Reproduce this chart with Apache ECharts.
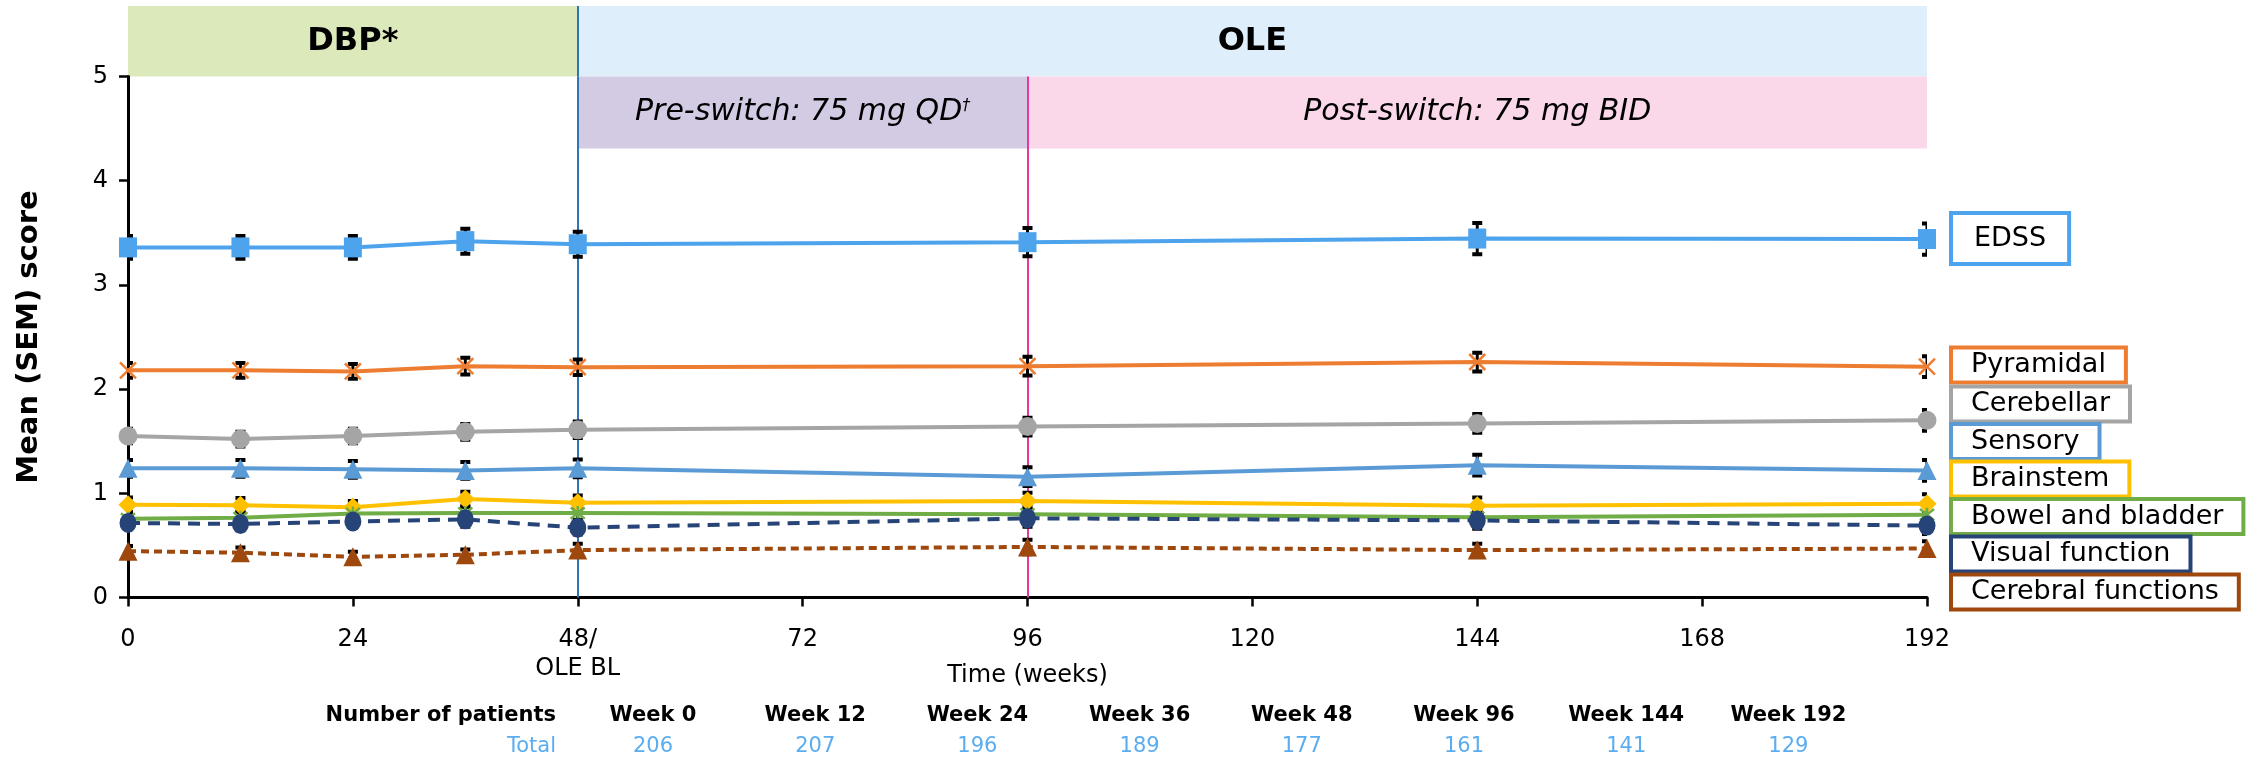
<!DOCTYPE html>
<html>
<head>
<meta charset="utf-8">
<script src="https://cdn.jsdelivr.net/npm/echarts@6/dist/echarts.min.js"></script>
<style>
html, body { margin: 0; padding: 0; background: #fff; }
#chart { width: 2261px; height: 758px; }
</style>
</head>
<body>
<div id="chart"></div>
<script>
// time points (weeks)
const weeks = [0, 12, 24, 36, 48, 96, 144, 192];

// mean scores and SEM per measure
const edss = [3.36, 3.36, 3.36, 3.42, 3.39, 3.41, 3.445, 3.44];
const edssSem = [0.11, 0.11, 0.11, 0.12, 0.12, 0.135, 0.15, 0.15];
const pyramidal = [2.18, 2.18, 2.17, 2.22, 2.21, 2.22, 2.26, 2.215];
const pyramidalSem = [0.07, 0.07, 0.07, 0.08, 0.075, 0.09, 0.09, 0.1];
const cerebellar = [1.55, 1.52, 1.55, 1.59, 1.61, 1.64, 1.67, 1.70];
const cerebellarSem = [0.07, 0.07, 0.07, 0.075, 0.08, 0.085, 0.09, 0.1];
const sensory = [1.24, 1.24, 1.23, 1.22, 1.24, 1.16, 1.27, 1.22];
const sensorySem = [0.08, 0.08, 0.08, 0.08, 0.085, 0.09, 0.1, 0.1];
const brainstem = [0.89, 0.885, 0.865, 0.945, 0.91, 0.925, 0.88, 0.90];
const brainstemSem = [0.07, 0.07, 0.06, 0.07, 0.07, 0.08, 0.08, 0.09];
const bowel = [0.755, 0.765, 0.805, 0.81, 0.81, 0.80, 0.77, 0.795];
const bowelSem = [0.06, 0.06, 0.06, 0.06, 0.065, 0.07, 0.07, 0.08];
const visual = [0.715, 0.705, 0.73, 0.75, 0.67, 0.76, 0.74, 0.69];
const visualSem = [0.06, 0.06, 0.06, 0.07, 0.065, 0.08, 0.08, 0.08];
const cerebral = [0.445, 0.43, 0.39, 0.41, 0.455, 0.485, 0.455, 0.47];
const cerebralSem = [0.05, 0.05, 0.05, 0.05, 0.06, 0.07, 0.06, 0.07];

// patient counts table
const tableHeads = ['Week 0', 'Week 12', 'Week 24', 'Week 36', 'Week 48', 'Week 96', 'Week 144', 'Week 192'];
const totals = [206, 207, 196, 189, 177, 161, 141, 129];

// phase bands
const phaseSwitch = 96;
const dbpEnd = 48;

const FONT = '"DejaVu Sans", Verdana, sans-serif';
const xMark = 'path://M0,0L10,10M10,0L0,10';
const starMark = 'path://M1,1L9,9M9,1L1,9M5,0L5,10';

const measures = [
    { name: 'EDSS', v: edss, e: edssSem, color: '#4DA3EC', symbol: 'rect', size: [18, 20], labelY: 238.5, pad: [10, 21, 10, 21] },
    { name: 'Pyramidal', v: pyramidal, e: pyramidalSem, color: '#ED7D31', symbol: xMark, size: 16, stroke: true, labelY: 365 },
    { name: 'Cerebellar', v: cerebellar, e: cerebellarSem, color: '#A5A5A5', symbol: 'circle', size: 19, labelY: 404 },
    { name: 'Sensory', v: sensory, e: sensorySem, color: '#5B9BD5', symbol: 'triangle', size: 19, labelY: 441.5 },
    { name: 'Brainstem', v: brainstem, e: brainstemSem, color: '#FFC000', symbol: 'diamond', size: 19, labelY: 479 },
    { name: 'Bowel and bladder', v: bowel, e: bowelSem, color: '#70AD47', symbol: starMark, size: 14, stroke: true, labelY: 516.5 },
    { name: 'Visual function', v: visual, e: visualSem, color: '#264478', symbol: 'circle', size: [17, 20], dash: [12, 8], labelY: 554 },
    { name: 'Cerebral functions', v: cerebral, e: cerebralSem, color: '#9E480E', symbol: 'triangle', size: 19, dash: [8, 5], labelY: 592 }
];

function errorSeries(m) {
    return {
        type: 'custom',
        xAxisIndex: 0, yAxisIndex: 0,
        z: 2, clip: true, silent: true,
        encode: { x: 0, y: [1, 2] },
        data: weeks.map((w, i) => [w, m.v[i] - m.e[i], m.v[i] + m.e[i]]),
        renderItem: function (params, api) {
            const lo = api.coord([api.value(0), api.value(1)]);
            const hi = api.coord([api.value(0), api.value(2)]);
            const cap = 5;
            return {
                type: 'group',
                children: [
                    { type: 'line', shape: { x1: lo[0], y1: lo[1], x2: hi[0], y2: hi[1] }, style: { stroke: '#000', lineWidth: 3 } },
                    { type: 'line', shape: { x1: lo[0] - cap, y1: lo[1], x2: lo[0] + cap, y2: lo[1] }, style: { stroke: '#000', lineWidth: 4 } },
                    { type: 'line', shape: { x1: hi[0] - cap, y1: hi[1], x2: hi[0] + cap, y2: hi[1] }, style: { stroke: '#000', lineWidth: 4 } }
                ]
            };
        }
    };
}

function lineSeries(m) {
    return {
        name: m.name,
        type: 'line',
        xAxisIndex: 0, yAxisIndex: 0,
        z: 3,
        color: m.color,
        data: weeks.map((w, i) => [w, m.v[i]]),
        symbol: m.symbol,
        symbolSize: m.size,
        showSymbol: true,
        lineStyle: { width: 4, type: m.dash ? m.dash : 'solid', color: m.color },
        itemStyle: m.stroke
            ? { color: 'transparent', borderColor: m.color, borderWidth: 2.5 }
            : { color: m.color, borderWidth: 0 }
    };
}

const series = [];
// phase bands + vertical lines (top grid)
series.push({
    type: 'line', xAxisIndex: 1, yAxisIndex: 1, data: [], silent: true,
    markArea: {
        silent: true, z: 0,
        label: { show: true, position: 'inside', color: '#000', fontFamily: FONT, fontSize: 32, fontWeight: 'bold' },
        data: [
            [{ name: 'DBP*', xAxis: 0, yAxis: 0, itemStyle: { color: '#DCEABB' } }, { xAxis: dbpEnd, yAxis: 1 }],
            [{ name: 'OLE', xAxis: dbpEnd, yAxis: 0, itemStyle: { color: '#DFEEFB' } }, { xAxis: 192, yAxis: 1 }]
        ]
    },
    markLine: {
        silent: true, symbol: 'none', z: 1, label: { show: false },
        data: [{ xAxis: dbpEnd, lineStyle: { color: '#2E75B6', width: 2, type: 'solid' } }]
    }
});
// dosing bands + vertical lines (main grid)
series.push({
    type: 'line', xAxisIndex: 0, yAxisIndex: 0, data: [], silent: true,
    markArea: {
        silent: true, z: 0,
        label: {
            show: true, position: 'inside', color: '#000', fontFamily: FONT, fontSize: 30, fontStyle: 'italic',
            formatter: function (p) { return p.name === 'pre' ? '{a|Pre-switch: 75 mg QD}{b|†}' : '{a|Post-switch: 75 mg BID}'; },
            rich: {
                a: { fontFamily: FONT, fontSize: 30, fontStyle: 'italic', color: '#000' },
                b: { fontFamily: FONT, fontSize: 16, fontStyle: 'italic', color: '#000', verticalAlign: 'top', padding: [0, 0, 14, 0] }
            }
        },
        data: [
            [{ name: 'pre', xAxis: dbpEnd, yAxis: 4.31, itemStyle: { color: '#D3CBE3' } }, { xAxis: phaseSwitch, yAxis: 5 }],
            [{ name: 'post', xAxis: phaseSwitch, yAxis: 4.31, itemStyle: { color: '#FAD8EA' } }, { xAxis: 192, yAxis: 5 }]
        ]
    },
    markLine: {
        silent: true, symbol: 'none', z: 1, label: { show: false },
        data: [
            { xAxis: dbpEnd, lineStyle: { color: '#2E75B6', width: 2, type: 'solid' } },
            { xAxis: phaseSwitch, lineStyle: { color: '#E6399B', width: 2, type: 'solid' } }
        ]
    }
});
measures.forEach(m => series.push(errorSeries(m)));
measures.forEach(m => series.push(lineSeries(m)));

const graphic = [];
measures.forEach(m => {
    graphic.push({
        type: 'text', x: 1953, y: m.labelY, silent: true,
        style: {
            text: m.name, font: '27px ' + FONT, fill: '#000',
            align: 'left', verticalAlign: 'middle',
            backgroundColor: '#fff', borderColor: m.color, borderWidth: 4,
            padding: m.pad || [2, 18, 2, 18]
        }
    });
});
graphic.push({
    type: 'text', x: 556, y: 716, silent: true,
    style: { text: 'Number of patients', font: 'bold 21px ' + FONT, fill: '#000', align: 'right', verticalAlign: 'middle' }
});
graphic.push({
    type: 'text', x: 556, y: 747, silent: true,
    style: { text: 'Total', font: '21px ' + FONT, fill: '#5BADEF', align: 'right', verticalAlign: 'middle' }
});
tableHeads.forEach((h, i) => {
    const cx = 653 + i * 162.2;
    graphic.push({
        type: 'text', x: cx, y: 716, silent: true,
        style: { text: h, font: 'bold 21px ' + FONT, fill: '#000', align: 'center', verticalAlign: 'middle' }
    });
    graphic.push({
        type: 'text', x: cx, y: 747, silent: true,
        style: { text: String(totals[i]), font: '21px ' + FONT, fill: '#5BADEF', align: 'center', verticalAlign: 'middle' }
    });
});

const myChart = echarts.init(document.getElementById('chart'));
const option = {
    animation: false,
    backgroundColor: '#fff',
    textStyle: { fontFamily: FONT },
    grid: [
        { left: 128, right: 334, top: 76.5, bottom: 160.5 },
        { left: 128, right: 334, top: 6, height: 70.5 }
    ],
    xAxis: [
        {
            gridIndex: 0, type: 'value', min: 0, max: 192, interval: 24,
            name: 'Time (weeks)', nameLocation: 'middle', nameGap: 66, nameMoveOverlap: false,
            nameTextStyle: { fontSize: 24, color: '#000', fontFamily: FONT },
            axisLine: { lineStyle: { color: '#000', width: 3 } },
            axisTick: { show: true, length: 9, lineStyle: { color: '#000', width: 2.5 } },
            axisLabel: {
                fontSize: 24, color: '#000', margin: 28, lineHeight: 29, fontFamily: FONT,
                formatter: v => v === dbpEnd ? '48/\nOLE BL' : String(v)
            },
            splitLine: { show: false }
        },
        { gridIndex: 1, type: 'value', min: 0, max: 192, show: false }
    ],
    yAxis: [
        {
            gridIndex: 0, type: 'value', min: 0, max: 5, interval: 1,
            name: 'Mean (SEM) score', nameLocation: 'middle', nameGap: 84, nameRotate: 90, nameMoveOverlap: false,
            nameTextStyle: { fontSize: 29, fontWeight: 'bold', color: '#000', fontFamily: FONT },
            axisLine: { show: true, lineStyle: { color: '#000', width: 3 } },
            axisTick: { show: true, length: 9, lineStyle: { color: '#000', width: 2.5 } },
            axisLabel: { fontSize: 24, color: '#000', margin: 20, fontFamily: FONT },
            splitLine: { show: false }
        },
        { gridIndex: 1, type: 'value', min: 0, max: 1, show: false }
    ],
    series: series,
    graphic: graphic
};
myChart.setOption(option);
window.addEventListener('resize', function () {
    myChart.resize();
});
</script>
</body>
</html>
